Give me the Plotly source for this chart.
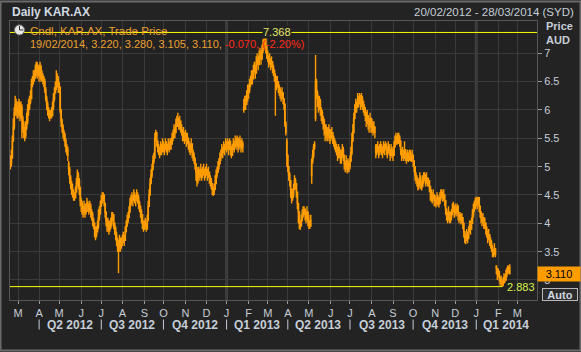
import pandas as pd
import plotly.graph_objects as go

# ---------------- data (daily close / high / low per month) ----------------
feb12_c = [5.05, 5.15, 5.45, 5.7, 5.95, 6.1, 6.0, 6.05]
feb12_h = [5.2, 5.3, 5.55, 5.85, 6.05, 6.25, 6.2, 6.15]
feb12_l = [4.95, 5.0, 5.15, 5.45, 5.65, 5.9, 5.9, 5.85]
mar12_c = [5.95, 6.1, 5.9, 6.05, 5.85, 5.75, 5.6, 5.55, 5.7, 5.8, 6.0, 6.05, 6.15, 6.2, 6.45, 6.5, 6.55, 6.6, 6.7, 6.8, 6.65, 6.75]
mar12_h = [6.15, 6.2, 6.15, 6.15, 6.1, 5.9, 5.8, 5.7, 5.8, 5.95, 6.1, 6.2, 6.25, 6.35, 6.55, 6.6, 6.7, 6.7, 6.8, 6.85, 6.85, 6.8]
mar12_l = [5.85, 5.9, 5.8, 5.85, 5.5, 5.6, 5.5, 5.45, 5.5, 5.65, 5.75, 5.9, 6.0, 6.1, 6.2, 6.4, 6.45, 6.5, 6.55, 6.6, 6.55, 6.6]
apr12_c = [6.6, 6.75, 6.55, 6.6, 6.55, 6.5, 6.35, 6.2, 6.1, 6.0, 5.95, 5.9, 5.95, 5.9, 6.05, 6.2, 6.3, 6.4, 6.5, 6.55, 6.45]
apr12_h = [6.8, 6.85, 6.8, 6.7, 6.65, 6.6, 6.55, 6.4, 6.25, 6.15, 6.05, 6.0, 6.0, 6.05, 6.15, 6.3, 6.4, 6.5, 6.7, 6.65, 6.6]
apr12_l = [6.5, 6.55, 6.5, 6.5, 6.45, 6.4, 6.3, 6.15, 6.0, 5.9, 5.85, 5.8, 5.85, 5.85, 5.9, 6.0, 6.15, 6.3, 6.35, 6.4, 6.3]
may12_c = [6.4, 6.0, 5.8, 5.7, 5.6, 5.55, 5.45, 5.35, 5.3, 5.2, 4.95, 4.8, 4.7, 4.6, 4.55, 4.5, 4.45, 4.55, 4.7, 4.85, 4.75, 4.6, 4.4]
may12_h = [6.5, 6.4, 6.0, 5.85, 5.75, 5.65, 5.6, 5.5, 5.4, 5.35, 5.1, 5.0, 4.85, 4.75, 4.7, 4.6, 4.55, 4.65, 4.8, 4.95, 4.9, 4.8, 4.65]
may12_l = [6.3, 5.95, 5.7, 5.6, 5.5, 5.45, 5.35, 5.25, 5.2, 5.1, 4.85, 4.7, 4.6, 4.5, 4.45, 4.4, 4.4, 4.45, 4.55, 4.65, 4.6, 4.5, 4.3]
jun12_c = [4.35, 4.25, 4.2, 4.3, 4.2, 4.25, 4.35, 4.3, 4.25, 4.3, 4.2, 4.15, 4.05, 4.0, 3.9, 3.8, 3.85, 3.95, 4.1, 4.2, 4.3]
jun12_h = [4.45, 4.4, 4.3, 4.4, 4.35, 4.35, 4.45, 4.4, 4.35, 4.4, 4.35, 4.25, 4.2, 4.1, 4.0, 3.95, 3.95, 4.05, 4.25, 4.3, 4.4]
jun12_l = [4.2, 4.15, 4.1, 4.15, 4.1, 4.15, 4.2, 4.2, 4.15, 4.2, 4.1, 4.05, 3.95, 3.9, 3.75, 3.7, 3.75, 3.85, 3.9, 4.05, 4.15]
jul12_c = [4.4, 4.45, 4.5, 4.35, 4.2, 4.05, 3.95, 4.0, 3.9, 3.95, 4.0, 4.1, 4.15, 4.0, 3.9, 3.8, 3.7, 3.6, 3.55, 3.7, 3.6, 3.65]
jul12_h = [4.5, 4.55, 4.55, 4.5, 4.35, 4.2, 4.1, 4.1, 4.05, 4.05, 4.1, 4.2, 4.2, 4.15, 4.0, 3.95, 3.85, 3.75, 3.7, 3.8, 3.75, 3.75]
jul12_l = [4.3, 4.35, 4.4, 4.3, 4.1, 3.95, 3.85, 3.85, 3.8, 3.85, 3.9, 3.95, 4.05, 3.9, 3.8, 3.7, 3.6, 3.5, 3.12, 3.5, 3.5, 3.55]
aug12_c = [3.7, 3.75, 3.7, 3.85, 3.95, 4.05, 4.1, 4.2, 4.35, 4.4, 4.45, 4.4, 4.5, 4.45, 4.4, 4.5, 4.45, 4.35, 4.3, 4.2, 4.15, 4.0, 3.95]
aug12_h = [3.8, 3.85, 3.8, 3.95, 4.05, 4.15, 4.2, 4.3, 4.45, 4.5, 4.55, 4.5, 4.6, 4.55, 4.5, 4.6, 4.55, 4.5, 4.4, 4.3, 4.25, 4.15, 4.05]
aug12_l = [3.6, 3.65, 3.6, 3.7, 3.85, 3.95, 4.0, 4.1, 4.2, 4.3, 4.35, 4.3, 4.4, 4.35, 4.3, 4.4, 4.35, 4.25, 4.2, 4.1, 4.0, 3.9, 3.85]
sep12_c = [3.95, 4.0, 3.9, 4.05, 4.3, 4.5, 4.7, 4.85, 4.95, 5.1, 5.15, 5.5, 5.6, 5.45, 5.35, 5.3, 5.25, 5.35, 5.3, 5.4]
sep12_h = [4.05, 4.1, 4.0, 4.15, 4.4, 4.6, 4.8, 4.95, 5.05, 5.2, 5.25, 5.6, 5.65, 5.6, 5.45, 5.4, 5.35, 5.45, 5.4, 5.5]
sep12_l = [3.88, 3.9, 3.85, 3.9, 4.05, 4.3, 4.5, 4.7, 4.8, 4.95, 5.05, 5.15, 5.45, 5.35, 5.25, 5.2, 5.15, 5.2, 5.2, 5.25]
oct12_c = [5.35, 5.3, 5.4, 5.35, 5.3, 5.4, 5.35, 5.45, 5.4, 5.5, 5.55, 5.65, 5.6, 5.75, 5.8, 5.85, 5.75, 5.8, 5.7, 5.65, 5.55, 5.6, 5.5]
oct12_h = [5.45, 5.4, 5.5, 5.45, 5.4, 5.5, 5.45, 5.5, 5.5, 5.6, 5.65, 5.75, 5.7, 5.85, 5.9, 5.95, 5.85, 5.9, 5.8, 5.75, 5.65, 5.7, 5.6]
oct12_l = [5.25, 5.2, 5.3, 5.25, 5.2, 5.3, 5.25, 5.3, 5.3, 5.4, 5.45, 5.5, 5.5, 5.6, 5.7, 5.7, 5.65, 5.65, 5.6, 5.55, 5.45, 5.45, 5.4]
nov12_c = [5.55, 5.45, 5.5, 5.4, 5.35, 5.3, 5.4, 5.25, 5.2, 5.15, 5.05, 4.9, 4.75, 4.95, 4.9, 4.85, 4.95, 4.85, 4.9, 4.95, 4.85, 4.9]
nov12_h = [5.65, 5.6, 5.6, 5.5, 5.45, 5.4, 5.5, 5.4, 5.3, 5.25, 5.15, 5.05, 4.9, 5.0, 5.0, 4.95, 5.05, 4.95, 5.0, 5.05, 4.95, 5.0]
nov12_l = [5.45, 5.35, 5.4, 5.3, 5.25, 5.2, 5.25, 5.15, 5.1, 5.05, 4.95, 4.75, 4.65, 4.7, 4.8, 4.75, 4.8, 4.75, 4.8, 4.85, 4.75, 4.8]
dec12_c = [4.95, 4.85, 4.9, 4.8, 4.75, 4.7, 4.6, 4.55, 4.6, 4.7, 4.85, 4.9, 5.0, 5.05, 5.15, 5.2, 5.3, 5.25, 5.35, 5.3, 5.4]
dec12_h = [5.05, 4.95, 5.0, 4.9, 4.85, 4.8, 4.7, 4.65, 4.7, 4.85, 4.95, 5.0, 5.1, 5.15, 5.25, 5.3, 5.4, 5.35, 5.45, 5.4, 5.5]
dec12_l = [4.85, 4.75, 4.8, 4.7, 4.65, 4.6, 4.5, 4.48, 4.5, 4.6, 4.7, 4.8, 4.9, 4.95, 5.05, 5.1, 5.2, 5.15, 5.25, 5.2, 5.3]
jan13_c = [5.35, 5.4, 5.3, 5.45, 5.35, 5.2, 5.3, 5.4, 5.35, 5.45, 5.4, 5.5, 5.35, 5.4, 5.45, 5.35, 5.4, 5.35, 6.05, 6.15, 6.1, 6.25, 6.3]
jan13_h = [5.45, 5.5, 5.45, 5.5, 5.45, 5.35, 5.4, 5.5, 5.45, 5.55, 5.5, 5.55, 5.5, 5.5, 5.55, 5.45, 5.5, 5.45, 6.2, 6.25, 6.25, 6.35, 6.45]
jan13_l = [5.25, 5.3, 5.2, 5.3, 5.2, 5.15, 5.2, 5.3, 5.25, 5.35, 5.3, 5.35, 5.25, 5.3, 5.35, 5.25, 5.3, 5.25, 5.95, 6.0, 6.0, 6.1, 6.15]
feb13_c = [6.35, 6.45, 6.5, 6.6, 6.55, 6.7, 6.75, 6.65, 6.85, 6.9, 6.8, 6.95, 7.0, 6.9, 7.05, 7.15, 7.2, 7.35, 7.1, 7.0]
feb13_h = [6.45, 6.55, 6.6, 6.7, 6.7, 6.8, 6.85, 6.8, 6.95, 7.0, 6.95, 7.05, 7.1, 7.05, 7.15, 7.25, 7.3, 7.368, 7.3, 7.15]
feb13_l = [6.2, 6.3, 6.4, 6.45, 6.45, 6.55, 6.65, 6.55, 6.65, 6.8, 6.7, 6.8, 6.9, 6.8, 6.9, 7.0, 7.05, 7.15, 7.0, 6.9]
mar13_c = [6.95, 6.85, 6.9, 6.8, 6.85, 6.75, 6.7, 6.6, 6.55, 6.45, 6.5, 6.4, 6.35, 6.3, 6.25, 6.3, 6.2, 6.1, 5.75, 5.6, 5.2]
mar13_h = [7.05, 6.95, 7.0, 6.9, 6.95, 6.85, 6.8, 6.7, 6.65, 6.6, 6.6, 6.5, 6.45, 6.4, 6.35, 6.4, 6.3, 6.2, 6.1, 5.8, 5.5]
mar13_l = [6.85, 6.75, 6.8, 6.7, 6.75, 6.65, 6.6, 6.5, 5.9, 6.35, 6.4, 6.3, 6.25, 6.2, 6.15, 6.2, 6.1, 6.0, 5.7, 5.55, 5.0]
apr13_c = [5.0, 4.85, 4.75, 4.6, 4.45, 4.5, 4.6, 4.75, 4.7, 4.55, 4.35, 4.2, 4.0, 3.95, 4.05, 4.15, 4.2, 4.25, 4.15, 4.1, 4.2, 4.05]
apr13_h = [5.1, 5.0, 4.9, 4.75, 4.6, 4.6, 4.7, 4.85, 4.8, 4.7, 4.5, 4.3, 4.2, 4.05, 4.15, 4.25, 4.3, 4.3, 4.25, 4.2, 4.3, 4.2]
apr13_l = [4.9, 4.75, 4.65, 4.45, 4.35, 4.4, 4.45, 4.6, 4.6, 4.45, 4.25, 4.0, 3.9, 3.88, 3.95, 4.05, 4.1, 4.15, 4.05, 4.0, 4.05, 3.95]
may13_c = [4.0, 3.95, 4.05, 5.1, 5.2, 5.35, 5.4, 6.5, 6.3, 6.2, 6.1, 6.15, 6.0, 5.95, 5.85, 5.8, 5.7, 5.6, 5.65, 5.55, 5.6, 5.65, 5.5]
may13_h = [4.15, 4.05, 4.15, 5.15, 5.3, 5.4, 5.45, 6.97, 6.55, 6.35, 6.25, 6.25, 6.2, 6.05, 6.0, 5.9, 5.85, 5.75, 5.75, 5.7, 5.7, 5.75, 5.65]
may13_l = [3.9, 3.9, 3.95, 4.7, 5.05, 5.15, 5.3, 5.8, 6.2, 6.05, 5.95, 6.0, 5.9, 5.8, 5.75, 5.65, 5.55, 5.45, 5.5, 5.45, 5.45, 5.5, 5.4]
jun13_c = [5.55, 5.6, 5.5, 5.45, 5.4, 5.35, 5.3, 5.2, 5.3, 5.25, 5.15, 5.2, 5.3, 5.2, 5.05, 5.0, 5.1, 4.95, 5.05, 5.0]
jun13_h = [5.65, 5.7, 5.6, 5.55, 5.5, 5.45, 5.4, 5.35, 5.4, 5.35, 5.3, 5.3, 5.4, 5.35, 5.2, 5.1, 5.2, 5.1, 5.15, 5.1]
jun13_l = [5.45, 5.5, 5.4, 5.35, 5.3, 5.25, 5.2, 5.1, 5.15, 5.15, 5.05, 5.05, 5.15, 5.1, 4.95, 4.9, 4.95, 4.88, 4.9, 4.9]
jul13_c = [5.1, 5.25, 5.45, 5.6, 5.85, 6.0, 6.1, 6.05, 6.2, 6.15, 6.25, 6.1, 6.2, 6.15, 6.05, 6.0, 5.95, 5.85, 5.9, 5.8, 5.75, 5.85, 5.7]
jul13_h = [5.2, 5.35, 5.6, 5.75, 5.95, 6.1, 6.2, 6.15, 6.3, 6.25, 6.3, 6.25, 6.3, 6.25, 6.15, 6.1, 6.05, 5.95, 6.0, 5.9, 5.85, 5.95, 5.85]
jul13_l = [4.95, 5.1, 5.2, 5.45, 5.6, 5.85, 5.95, 5.95, 6.05, 6.05, 6.1, 6.0, 6.05, 6.0, 5.95, 5.9, 5.8, 5.7, 5.75, 5.65, 5.6, 5.7, 5.6]
aug13_c = [5.75, 5.65, 5.7, 5.6, 5.25, 5.3, 5.35, 5.25, 5.3, 5.35, 5.3, 5.25, 5.35, 5.3, 5.4, 5.3, 5.25, 5.35, 5.3, 5.2, 5.3, 5.25]
aug13_h = [5.85, 5.8, 5.8, 5.7, 5.4, 5.4, 5.45, 5.35, 5.4, 5.45, 5.4, 5.35, 5.45, 5.4, 5.45, 5.4, 5.35, 5.45, 5.4, 5.3, 5.4, 5.35]
aug13_l = [5.6, 5.55, 5.6, 5.5, 5.15, 5.2, 5.25, 5.15, 5.2, 5.25, 5.2, 5.15, 5.25, 5.2, 5.3, 5.2, 5.15, 5.25, 5.2, 5.1, 5.2, 5.15]
sep13_c = [5.2, 5.35, 5.45, 5.5, 5.45, 5.55, 5.5, 5.45, 5.3, 5.2, 5.25, 5.15, 5.3, 5.2, 5.15, 5.2, 5.15, 5.25, 5.2, 5.15, 5.2]
sep13_h = [5.3, 5.45, 5.55, 5.6, 5.55, 5.6, 5.6, 5.55, 5.45, 5.3, 5.35, 5.3, 5.45, 5.3, 5.25, 5.3, 5.25, 5.3, 5.3, 5.25, 5.3]
sep13_l = [5.1, 5.2, 5.35, 5.4, 5.38, 5.4, 5.4, 5.35, 5.2, 5.1, 5.15, 5.1, 5.15, 5.1, 5.05, 5.1, 5.08, 5.1, 5.1, 5.08, 5.1]
oct13_c = [5.1, 5.0, 4.85, 4.8, 4.75, 4.65, 4.7, 4.8, 4.7, 4.65, 4.75, 4.8, 4.85, 4.75, 4.8, 4.7, 4.75, 4.65, 4.55, 4.5, 4.45, 4.5, 4.4]
oct13_h = [5.2, 5.1, 5.0, 4.9, 4.85, 4.75, 4.8, 4.9, 4.85, 4.75, 4.85, 4.9, 4.9, 4.85, 4.9, 4.8, 4.8, 4.75, 4.65, 4.6, 4.55, 4.6, 4.5]
oct13_l = [5.0, 4.9, 4.75, 4.7, 4.65, 4.58, 4.6, 4.65, 4.6, 4.58, 4.65, 4.7, 4.75, 4.65, 4.7, 4.65, 4.65, 4.55, 4.4, 4.38, 4.35, 4.4, 4.3]
nov13_c = [4.4, 4.35, 4.45, 4.4, 4.35, 4.45, 4.5, 4.55, 4.45, 4.5, 4.4, 4.25, 4.15, 4.1, 4.2, 4.05, 4.1, 4.15, 4.25, 4.3, 4.2]
nov13_h = [4.5, 4.45, 4.55, 4.5, 4.45, 4.55, 4.6, 4.6, 4.55, 4.6, 4.5, 4.35, 4.25, 4.2, 4.3, 4.15, 4.2, 4.25, 4.35, 4.38, 4.3]
nov13_l = [4.3, 4.28, 4.35, 4.3, 4.28, 4.35, 4.4, 4.45, 4.38, 4.4, 4.3, 4.15, 4.05, 4.0, 4.05, 4.0, 4.0, 4.05, 4.15, 4.2, 4.1]
dec13_c = [4.25, 4.2, 4.3, 4.15, 4.1, 4.15, 4.05, 4.1, 4.0, 3.85, 3.75, 3.7, 3.8, 3.75, 3.85, 3.95, 3.9, 4.0, 4.15, 4.25, 4.3, 4.35]
dec13_h = [4.35, 4.3, 4.35, 4.28, 4.2, 4.2, 4.15, 4.18, 4.1, 3.95, 3.85, 3.8, 3.9, 3.85, 3.95, 4.05, 4.05, 4.1, 4.25, 4.35, 4.4, 4.45]
dec13_l = [4.15, 4.12, 4.2, 4.05, 4.0, 4.05, 3.98, 4.0, 3.9, 3.75, 3.65, 3.63, 3.7, 3.65, 3.72, 3.85, 3.8, 3.9, 4.0, 4.1, 4.2, 4.25]
jan14_c = [4.4, 4.35, 4.45, 4.3, 4.2, 4.1, 4.05, 4.1, 3.95, 4.0, 3.9, 3.85, 3.75, 3.8, 3.7, 3.65, 3.6, 3.5, 3.45, 3.55, 3.45, 3.2, 3.1]
jan14_h = [4.47, 4.45, 4.47, 4.4, 4.3, 4.2, 4.15, 4.18, 4.05, 4.1, 4.0, 3.95, 3.85, 3.9, 3.8, 3.75, 3.7, 3.6, 3.55, 3.65, 3.55, 3.26, 3.2]
jan14_l = [4.3, 4.25, 4.35, 4.2, 4.1, 4.0, 3.95, 4.0, 3.9, 3.9, 3.8, 3.75, 3.65, 3.7, 3.6, 3.55, 3.5, 3.4, 3.4, 3.45, 3.4, 3.1, 3.0]
feb14_c = [3.15, 3.05, 2.95, 3.0, 2.9, 2.95, 3.05, 3.0, 3.1, 3.15, 3.2, 3.18, 3.11]
feb14_h = [3.2, 3.15, 3.05, 3.08, 3.0, 3.05, 3.12, 3.1, 3.18, 3.22, 3.26, 3.25, 3.28]
feb14_l = [3.05, 2.98, 2.9, 2.92, 2.883, 2.9, 2.95, 2.95, 3.0, 3.05, 3.1, 3.12, 3.105]

# opens that differ from the previous close (price gaps)
gap_opens = {"2012-05-15": 5.05, "2013-01-25": 6.0, "2013-03-29": 5.45,
             "2013-05-06": 4.85, "2013-05-10": 5.85, "2013-08-07": 5.35,
             "2014-01-30": 3.25, "2014-02-19": 3.22}

START, LAST, END = "2012-02-20", "2014-02-19", "2014-03-28"
month_letters = ["J", "F", "M", "A", "M", "J", "J", "A", "S", "O", "N", "D"]
months = ["feb12", "mar12", "apr12", "may12", "jun12", "jul12", "aug12", "sep12", "oct12", "nov12",
          "dec12", "jan13", "feb13", "mar13", "apr13", "may13", "jun13", "jul13", "aug13", "sep13",
          "oct13", "nov13", "dec13", "jan14", "feb14"]

# ---------------- build OHLC ----------------
g = globals()
closes = [v for m in months for v in g[m + "_c"]]
highs_in = [v for m in months for v in g[m + "_h"]]
lows_in = [v for m in months for v in g[m + "_l"]]
dates = pd.bdate_range(START, LAST)[:len(closes)]
keys = [d.strftime("%Y-%m-%d") for d in dates]
opens, highs, lows = [], [], []
for k, (key, c) in enumerate(zip(keys, closes)):
    o = gap_opens.get(key, closes[k - 1] if k else c)
    opens.append(o)
    highs.append(max(highs_in[k], o, c))
    lows.append(min(lows_in[k], o, c))

ORANGE = "#ff9c00"
PLOT_BG = "#222222"
PAPER_BG = "#232323"
GRID = "#3a3a3a"
TXT = "#c6ced8"
YEL = "#ffff00"
FONT = "Liberation Sans, Arial, sans-serif"

fig = go.Figure()
fig.add_trace(go.Candlestick(
    x=dates, open=opens, high=highs, low=lows, close=closes,
    increasing=dict(line=dict(color=ORANGE, width=1.4), fillcolor=ORANGE),
    decreasing=dict(line=dict(color=ORANGE, width=1.4), fillcolor=ORANGE),
    whiskerwidth=0, showlegend=False, hoverinfo="skip"))

# month ticks
all_days = pd.bdate_range(START, END)
month_starts = [d for k, d in enumerate(all_days) if k > 0 and d.month != all_days[k - 1].month]
tick_text = [month_letters[d.month - 1] for d in month_starts]

shapes = []
annotations = []

# year separators (slightly stronger grid)
for d in month_starts:
    if d.month == 1:
        shapes.append(dict(type="line", xref="x", yref="paper", x0=d, x1=d, y0=0, y1=1,
                           line=dict(color="#3f3f3f", width=3), layer="below"))

# quarter labels
q_starts = [d for d in month_starts if d.month in (1, 4, 7, 10)]
ext_days = pd.bdate_range(START, "2014-03-31")
idx = {d: k for k, d in enumerate(ext_days)}
for j, qs in enumerate(q_starts):
    shapes.append(dict(type="line", xref="x", yref="paper", x0=qs, x1=qs, y0=-0.07, y1=-0.106,
                       line=dict(color=TXT, width=1)))
    a = idx[qs]
    b = idx[q_starts[j + 1]] if j + 1 < len(q_starts) else len(ext_days) - 1
    mid = ext_days[(a + b) // 2]
    q = (qs.month - 1) // 3 + 1
    annotations.append(dict(x=mid, xref="x", y=-0.09, yref="paper", yanchor="middle",
                            text=f"<b>Q{q} {qs.year}</b>", showarrow=False,
                            font=dict(size=12, color=TXT, family=FONT)))

# max / min lines
imax = max(range(len(highs)), key=lambda k: highs[k])
imin = min(range(len(lows)), key=lambda k: lows[k])
hi, lo = highs[imax], lows[imin]
shapes.append(dict(type="line", xref="paper", yref="y", x0=0, x1=1, y0=hi, y1=hi,
                   line=dict(color=YEL, width=1)))
shapes.append(dict(type="line", xref="x", yref="y", x0=dates[0] - pd.Timedelta(days=3),
                   x1=dates[imin] + pd.Timedelta(hours=6), y0=lo, y1=lo, line=dict(color=YEL, width=1)))
annotations.append(dict(x=dates[imax], xref="x", y=hi, yref="y", text=f"{hi:.3f}", xanchor="left",
                        yanchor="middle", xshift=-3, showarrow=False, bgcolor=PLOT_BG, borderpad=0,
                        font=dict(size=11, color="#e6e66a", family=FONT)))
annotations.append(dict(x=dates[imin], xref="x", y=lo, yref="y", text=f"{lo:.3f}", xanchor="left",
                        yanchor="middle", xshift=4, showarrow=False, borderpad=0,
                        font=dict(size=11, color="#d8f050", family=FONT)))

# legend text
last = len(closes) - 1
chg = closes[last] - closes[last - 1]
pct = chg / closes[last - 1] * 100
annotations.append(dict(x=0.034, xref="paper", y=0.964, yref="paper", xanchor="left", yanchor="middle",
                        text="Cndl, KAR.AX, Trade Price", showarrow=False,
                        font=dict(size=11.5, color="#eba030", family=FONT)))
annotations.append(dict(x=0.034, xref="paper", y=0.917, yref="paper", xanchor="left", yanchor="middle",
                        text=(f"{dates[last].strftime('%d/%m/%Y')}, {opens[last]:.3f}, {highs[last]:.3f}, "
                              f"{lows[last]:.3f}, {closes[last]:.3f}, "
                              f"<span style='color:#ff2a1a'>{chg:.3f}, ({pct:.2f}%)</span>"),
                        showarrow=False, font=dict(size=11, color="#eba030", family=FONT)))
# clock icon
shapes.append(dict(type="circle", xref="paper", yref="paper", x0=0.0085, x1=0.0275, y0=0.950, y1=0.986,
                   fillcolor="#e8e8e8", line=dict(color="#707070", width=1)))
shapes.append(dict(type="line", xref="paper", yref="paper", x0=0.018, x1=0.018, y0=0.968, y1=0.982,
                   line=dict(color="#303030", width=1)))
shapes.append(dict(type="line", xref="paper", yref="paper", x0=0.018, x1=0.025, y0=0.968, y1=0.968,
                   line=dict(color="#303030", width=1)))

# header
annotations.append(dict(x=0, xref="paper", y=1.033, yref="paper", xanchor="left", yanchor="middle",
                        text="<b>Daily KAR.AX</b>", showarrow=False,
                        font=dict(size=12, color="#d2d9e2", family=FONT)))
annotations.append(dict(x=1.074, xref="paper", y=1.033, yref="paper", xanchor="right", yanchor="middle",
                        text=f"{dates[0].strftime('%d/%m/%Y')} - {pd.Timestamp(END).strftime('%d/%m/%Y')} (SYD)",
                        showarrow=False, font=dict(size=11.5, color=TXT, family=FONT)))
annotations.append(dict(x=1.0135, xref="paper", y=0.981, yref="paper", xanchor="left", yanchor="middle",
                        text="<b>Price</b>", showarrow=False, font=dict(size=11, color=TXT, family=FONT)))
annotations.append(dict(x=1.0135, xref="paper", y=0.931, yref="paper", xanchor="left", yanchor="middle",
                        text="<b>AUD</b>", showarrow=False, font=dict(size=11, color=TXT, family=FONT)))
# last price box
annotations.append(dict(x=1.0, xref="paper", y=closes[last], yref="y", xanchor="left", yanchor="middle",
                        text=f"{closes[last]:.3f}", showarrow=False, bgcolor=ORANGE, width=40, height=12,
                        borderpad=1, font=dict(size=11, color="#000000", family=FONT)))
annotations.append(dict(x=1.0095, xref="paper", y=0.0215, yref="paper", xanchor="left", yanchor="middle",
                        text="<b>Auto</b>", showarrow=False, bgcolor="#2c2c2c", bordercolor="#b8b8b8",
                        borderwidth=1, borderpad=0, width=34, height=11,
                        font=dict(size=11, color="#d0d8e0", family=FONT)))

# outer frame
shapes.append(dict(type="rect", xref="paper", yref="paper", x0=-0.018, x1=1.0825, y0=-0.181, y1=1.07,
                   line=dict(color="#6a6a6a", width=2), layer="below"))

fig.update_layout(
    width=581, height=352,
    margin=dict(l=10, r=44, t=21, b=52),
    paper_bgcolor=PAPER_BG, plot_bgcolor=PLOT_BG,
    font=dict(family=FONT, size=11, color=TXT),
    shapes=shapes, annotations=annotations,
    xaxis=dict(type="date", rangebreaks=[dict(bounds=["sat", "mon"])],
               range=["2012-02-17 14:00", "2014-03-31 12:00"],
               rangeslider=dict(visible=False),
               tickmode="array", tickvals=month_starts, ticktext=tick_text,
               ticks="outside", ticklen=3, tickcolor="#9a9a9a",
               showgrid=True, gridcolor=GRID, gridwidth=1,
               showline=True, linecolor="#555555", mirror=True, zeroline=False,
               tickfont=dict(size=11, color=TXT)),
    yaxis=dict(side="right", range=[2.647, 7.570],
               tickmode="array", tickvals=[3, 3.5, 4, 4.5, 5, 5.5, 6, 6.5, 7],
               ticktext=["3", "3.5", "4", "4.5", "5", "5.5", "6", "6.5", "7"],
               ticks="outside", ticklen=4, tickcolor="#9a9a9a",
               showgrid=True, gridcolor=GRID, gridwidth=1,
               showline=True, linecolor="#555555", mirror=True, zeroline=False,
               tickfont=dict(size=11, color=TXT)),
)

fig.write_html("out.html")
